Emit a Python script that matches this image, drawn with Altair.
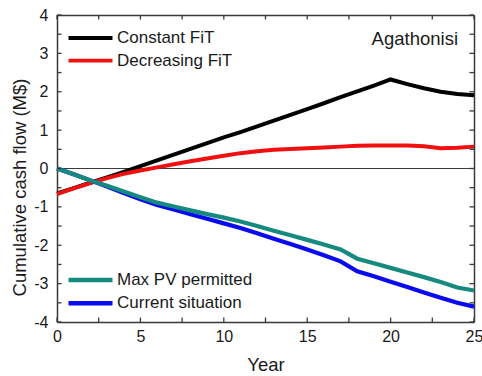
import altair as alt
import pandas as pd

# ---------------- data ----------------
years = list(range(26))
constant_fit = [-0.65, -0.51, -0.37, -0.23, -0.09, 0.06, 0.21, 0.36, 0.51, 0.66, 0.81,
                0.95, 1.10, 1.25, 1.40, 1.55, 1.70, 1.86, 2.01, 2.16, 2.32,
                2.20, 2.09, 2.00, 1.94, 1.91]
decreasing_fit = [-0.67, -0.52, -0.38, -0.25, -0.14, -0.05, 0.03, 0.11, 0.19, 0.26, 0.33,
                  0.40, 0.45, 0.49, 0.51, 0.53, 0.55, 0.57, 0.59, 0.60, 0.60,
                  0.60, 0.58, 0.53, 0.54, 0.57]
max_pv = [0.0, -0.15, -0.31, -0.45, -0.60, -0.75, -0.89, -0.99, -1.09, -1.19, -1.28,
          -1.38, -1.50, -1.62, -1.74, -1.86, -1.98, -2.11, -2.35, -2.47, -2.59,
          -2.71, -2.83, -2.96, -3.10, -3.18]
current = [0.0, -0.15, -0.31, -0.47, -0.64, -0.80, -0.95, -1.07, -1.19, -1.31, -1.43,
           -1.55, -1.69, -1.83, -1.97, -2.11, -2.26, -2.42, -2.68, -2.81, -2.95,
           -3.09, -3.23, -3.37, -3.50, -3.60]

fit_names = ["Constant FiT", "Decreasing FiT"]
pv_names = ["Max PV permitted", "Current situation"]
place_name = ["Agathonisi"]
x_ticks = [0, 2.5, 5, 7.5, 10, 12.5, 15, 17.5, 20, 22.5, 25]
y_ticks = [-4, -3.5, -3, -2.5, -2, -1.5, -1, -0.5, 0, 0.5, 1, 1.5, 2, 2.5, 3, 3.5, 4]
zero_line = [0]

df_fit = pd.DataFrame({
    "Year": years + years,
    "value": constant_fit + decreasing_fit,
    "series": [fit_names[0]] * len(years) + [fit_names[1]] * len(years),
})
df_pv = pd.DataFrame({
    "Year": years + years,
    "value": current + max_pv,
    "series": [pv_names[1]] * len(years) + [pv_names[0]] * len(years),
})
df_zero = pd.DataFrame({"y": zero_line})
df_label = pd.DataFrame({"label": place_name})
df_xt = pd.DataFrame({"xt": x_ticks})
df_yt = pd.DataFrame({"yt": y_ticks})

# ---------------- styling ----------------
W, H = 417, 307
TICK = 4.5
FONT = "Liberation Sans"
AX = "#3a3a3a"
xscale = alt.Scale(domain=[0, 25], nice=False, zero=False)
yscale = alt.Scale(domain=[-4, 4], nice=False, zero=False)

common_axis = dict(
    domainColor=AX, domainWidth=1.5, ticks=False, grid=False,
    labelFont=FONT, labelFontSize=16,
    labelColor="#1a1a1a", labelFlush=False, labelOverlap=False,
    titleFont=FONT, titleFontSize=18.5, titleFontWeight="normal", titleColor="#1a1a1a",
)

x_axis = alt.Axis(
    orient="bottom", values=x_ticks,
    labelExpr="datum.value % 5 == 0 ? '' + datum.value : ''",
    labelPadding=6, title="Year", titleBaseline="alphabetic",
    titleAnchor="middle", titleY=48, **common_axis,
)
y_axis = alt.Axis(
    orient="left", values=y_ticks,
    labelExpr="datum.value % 1 == 0 ? '' + datum.value : ''",
    labelPadding=9, title="Cumulative cash flow (M$)", titleAngle=270,
    titleBaseline="alphabetic", titleAnchor="middle", titleX=-32, titleY=172,
    **common_axis,
)
x_mirror = alt.Axis(orient="top", values=x_ticks, labels=False, title=None, **common_axis)
y_mirror = alt.Axis(orient="right", values=y_ticks, labels=False, title=None, **common_axis)

legend_common = dict(
    title=None, orient="none", symbolType="stroke", symbolSize=1936,
    symbolStrokeWidth=4.5, clipHeight=16, labelFont=FONT, labelFontSize=17,
    labelColor="#1a1a1a", labelOffset=2, padding=0, legendX=9,
)

zero_rule = alt.Chart(df_zero).mark_rule(color=AX, strokeWidth=1).encode(
    y=alt.Y("y:Q", scale=yscale, axis=None)
)

# inward ticks on all four sides
tick_style = dict(color=AX, strokeWidth=1.3)
xt_bottom = alt.Chart(df_xt).mark_rule(**tick_style).encode(
    x=alt.X("xt:Q", scale=xscale, axis=None), y=alt.value(H), y2=alt.value(H - TICK))
xt_top = alt.Chart(df_xt).mark_rule(**tick_style).encode(
    x=alt.X("xt:Q", scale=xscale, axis=None), y=alt.value(0), y2=alt.value(TICK))
yt_left = alt.Chart(df_yt).mark_rule(**tick_style).encode(
    y=alt.Y("yt:Q", scale=yscale, axis=None), x=alt.value(0), x2=alt.value(TICK))
yt_right = alt.Chart(df_yt).mark_rule(**tick_style).encode(
    y=alt.Y("yt:Q", scale=yscale, axis=None), x=alt.value(W), x2=alt.value(W - TICK))

fit_lines = alt.Chart(df_fit).mark_line(strokeWidth=4).encode(
    x=alt.X("Year:Q", scale=xscale, axis=x_axis),
    y=alt.Y("value:Q", scale=yscale, axis=y_axis),
    color=alt.Color(
        "series:N",
        scale=alt.Scale(domain=fit_names, range=["#000000", "#f01010"]),
        legend=alt.Legend(legendY=15, rowPadding=5.6, **legend_common),
    ),
    strokeWidth=alt.StrokeWidth(
        "series:N", scale=alt.Scale(domain=fit_names, range=[4.2, 3.6]), legend=None
    ),
)

pv_lines = alt.Chart(df_pv).mark_line(strokeWidth=4.2).encode(
    x=alt.X("Year:Q", scale=xscale, axis=None),
    y=alt.Y("value:Q", scale=yscale, axis=None),
    color=alt.Color(
        "series:N",
        scale=alt.Scale(domain=pv_names, range=["#178a80", "#0a0af0"]),
        legend=alt.Legend(legendY=257, rowPadding=6.3, **legend_common),
    ),
)

mirror = alt.Chart(df_fit).mark_line(strokeOpacity=0).encode(
    x=alt.X("Year:Q", scale=xscale, axis=x_mirror),
    y=alt.Y("value:Q", scale=yscale, axis=y_mirror),
    detail="series:N",
)

label = alt.Chart(df_label).mark_text(
    align="right", baseline="alphabetic", font=FONT, fontSize=18.5, color="#1a1a1a"
).encode(
    text="label:N",
    x=alt.value(401),
    y=alt.value(30),
)

chart = (
    alt.layer(zero_rule, fit_lines, pv_lines, mirror, label,
              xt_bottom, xt_top, yt_left, yt_right)
    .resolve_scale(color="independent", strokeWidth="independent")
    .resolve_axis(x="independent", y="independent")
    .properties(
        width=W, height=H,
        padding={"left": 57, "top": 15, "right": 8, "bottom": 54},
        autosize=alt.AutoSizeParams(type="none"),
        background="white",
    )
    .configure_view(stroke=None)
)

chart.save("out.html", embed_options={"renderer": "svg", "actions": False})
